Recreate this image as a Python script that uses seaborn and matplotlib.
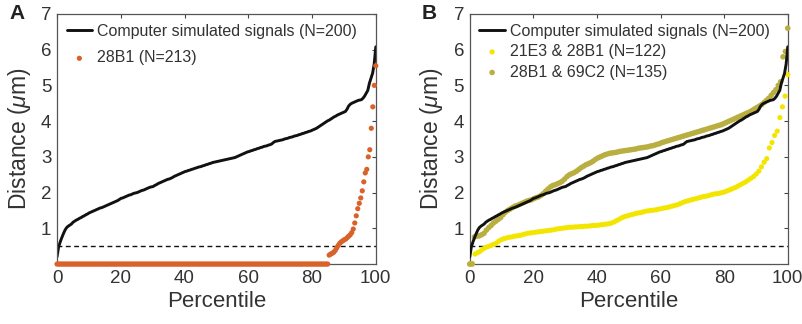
import numpy as np
import pandas as pd
import matplotlib
matplotlib.use('Agg')
import matplotlib.pyplot as plt
import seaborn as sns

# Sorted distances (um)
sim_dist = [
    0.20, 0.48, 0.62, 0.74, 0.85, 0.95, 1.02, 1.06, 1.09, 1.12,
    1.17, 1.20, 1.23, 1.25, 1.28, 1.30, 1.33, 1.35, 1.38, 1.40,
    1.43, 1.45, 1.47, 1.49, 1.51, 1.53, 1.55, 1.57, 1.58, 1.60,
    1.62, 1.64, 1.66, 1.68, 1.70, 1.72, 1.74, 1.76, 1.78, 1.81,
    1.84, 1.85, 1.87, 1.89, 1.91, 1.93, 1.94, 1.96, 1.98, 1.99,
    2.00, 2.02, 2.04, 2.06, 2.07, 2.09, 2.11, 2.13, 2.15, 2.16,
    2.17, 2.20, 2.22, 2.25, 2.27, 2.29, 2.31, 2.33, 2.35, 2.37,
    2.38, 2.40, 2.42, 2.45, 2.47, 2.49, 2.51, 2.53, 2.55, 2.57,
    2.59, 2.60, 2.62, 2.63, 2.65, 2.66, 2.68, 2.69, 2.71, 2.72,
    2.73, 2.75, 2.76, 2.78, 2.79, 2.81, 2.82, 2.84, 2.85, 2.86,
    2.87, 2.88, 2.89, 2.90, 2.91, 2.92, 2.93, 2.94, 2.95, 2.96,
    2.97, 2.98, 3.00, 3.02, 3.04, 3.06, 3.08, 3.10, 3.12, 3.14,
    3.15, 3.17, 3.18, 3.20, 3.21, 3.23, 3.24, 3.26, 3.27, 3.29,
    3.30, 3.31, 3.33, 3.34, 3.36, 3.40, 3.43, 3.44, 3.45, 3.46,
    3.47, 3.48, 3.50, 3.51, 3.52, 3.54, 3.55, 3.56, 3.58, 3.59,
    3.60, 3.62, 3.63, 3.65, 3.66, 3.68, 3.69, 3.71, 3.72, 3.74,
    3.76, 3.78, 3.80, 3.83, 3.86, 3.89, 3.92, 3.95, 3.98, 4.01,
    4.03, 4.06, 4.09, 4.12, 4.14, 4.17, 4.19, 4.21, 4.23, 4.25,
    4.27, 4.33, 4.42, 4.47, 4.50, 4.52, 4.54, 4.56, 4.58, 4.59,
    4.60, 4.64, 4.70, 4.78, 4.86, 5.06, 5.20, 5.34, 5.60, 6.08,
]

b28_zero_count = 181
b28_nonzero = [
    0.25, 0.28, 0.30, 0.33, 0.38, 0.45, 0.52, 0.58, 0.62, 0.65,
    0.68, 0.70, 0.74, 0.78, 0.82, 0.88, 0.98, 1.15, 1.35, 1.55,
    1.70, 1.85, 2.05, 2.30, 2.55, 2.65, 3.00, 3.20, 3.80, 4.40,
    5.00, 5.55,
]
b28_dist = [0.0] * b28_zero_count + b28_nonzero

e21_b28_dist = [
    0.00, 0.02, 0.28, 0.32, 0.36, 0.42, 0.46, 0.49, 0.52, 0.55,
    0.58, 0.64, 0.68, 0.71, 0.73, 0.75, 0.76, 0.78, 0.79, 0.80,
    0.82, 0.84, 0.86, 0.87, 0.88, 0.89, 0.90, 0.91, 0.92, 0.93,
    0.94, 0.95, 0.96, 0.98, 0.99, 1.00, 1.01, 1.02, 1.03, 1.03,
    1.04, 1.04, 1.05, 1.05, 1.06, 1.06, 1.07, 1.08, 1.08, 1.09,
    1.10, 1.11, 1.12, 1.13, 1.15, 1.18, 1.22, 1.26, 1.30, 1.33,
    1.35, 1.37, 1.39, 1.41, 1.43, 1.44, 1.46, 1.48, 1.49, 1.50,
    1.51, 1.52, 1.54, 1.55, 1.57, 1.58, 1.60, 1.62, 1.64, 1.66,
    1.69, 1.72, 1.75, 1.77, 1.79, 1.81, 1.83, 1.85, 1.87, 1.89,
    1.90, 1.92, 1.94, 1.96, 1.97, 1.98, 2.00, 2.02, 2.05, 2.08,
    2.11, 2.14, 2.18, 2.22, 2.26, 2.30, 2.35, 2.40, 2.45, 2.52,
    2.60, 2.72, 2.85, 2.95, 3.25, 3.40, 3.60, 3.72, 4.10, 4.40,
    4.70, 5.30,
]

b28_c69_dist = [
    0.00, 0.00, 0.76, 0.78, 0.79, 0.82, 0.86, 0.95, 1.02, 1.08,
    1.15, 1.20, 1.25, 1.30, 1.38, 1.45, 1.50, 1.54, 1.58, 1.62,
    1.64, 1.67, 1.70, 1.73, 1.76, 1.78, 1.80, 1.83, 1.86, 1.88,
    1.92, 1.97, 2.04, 2.10, 2.16, 2.20, 2.22, 2.25, 2.28, 2.32,
    2.38, 2.45, 2.50, 2.53, 2.56, 2.60, 2.65, 2.70, 2.74, 2.78,
    2.81, 2.84, 2.88, 2.93, 2.97, 3.00, 3.03, 3.06, 3.08, 3.10,
    3.11, 3.12, 3.13, 3.15, 3.16, 3.17, 3.18, 3.19, 3.20, 3.21,
    3.22, 3.24, 3.25, 3.26, 3.27, 3.28, 3.30, 3.31, 3.33, 3.35,
    3.37, 3.40, 3.42, 3.44, 3.46, 3.48, 3.50, 3.52, 3.54, 3.56,
    3.58, 3.60, 3.62, 3.64, 3.66, 3.68, 3.70, 3.72, 3.74, 3.76,
    3.78, 3.80, 3.82, 3.84, 3.86, 3.88, 3.90, 3.93, 3.96, 3.99,
    4.02, 4.05, 4.08, 4.11, 4.14, 4.17, 4.20, 4.23, 4.26, 4.30,
    4.34, 4.38, 4.42, 4.46, 4.52, 4.58, 4.64, 4.72, 4.80, 4.88,
    5.00, 5.10, 5.80, 5.95, 6.60,
]

threshold = 0.5


def to_frame(dist):
    d = np.sort(np.asarray(dist, dtype=float))
    pct = np.arange(len(d)) / (len(d) - 1) * 100
    return pd.DataFrame({'Percentile': pct, 'Distance': d})


sns.set_style('white')
plt.rcParams['font.family'] = ['Liberation Sans', 'DejaVu Sans']
plt.rcParams['mathtext.fontset'] = 'custom'
plt.rcParams['mathtext.it'] = 'Liberation Sans:italic'
plt.rcParams['mathtext.rm'] = 'Liberation Sans'

fig = plt.figure(figsize=(8.03, 3.24), dpi=100)
ax_a = fig.add_axes([0.071, 0.185, 0.397, 0.772])
ax_b = fig.add_axes([0.585, 0.185, 0.396, 0.772])

sim = to_frame(sim_dist)
orange = '#D9622B'
yellow = '#F4E500'
olive = '#B9AE40'

# Panel A
sns.lineplot(data=sim, x='Percentile', y='Distance', ax=ax_a, color='#111111',
             linewidth=2.1, label='Computer simulated signals (N=200)')
sns.scatterplot(data=to_frame(b28_dist), x='Percentile', y='Distance', ax=ax_a,
                color=orange, s=14, edgecolor='none', clip_on=False, zorder=5,
                label='28B1 (N=213)')

# Panel B
sns.lineplot(data=sim, x='Percentile', y='Distance', ax=ax_b, color='#111111',
             linewidth=2.1, label='Computer simulated signals (N=200)', zorder=4)
sns.scatterplot(data=to_frame(e21_b28_dist), x='Percentile', y='Distance', ax=ax_b,
                color=yellow, s=14, edgecolor='none', clip_on=False, zorder=3,
                label='21E3 & 28B1 (N=122)')
sns.scatterplot(data=to_frame(b28_c69_dist), x='Percentile', y='Distance', ax=ax_b,
                color=olive, s=16, edgecolor='none', clip_on=False, zorder=3,
                label='28B1 & 69C2 (N=135)')

for ax, letter, spacing in [(ax_a, 'A', 0.75), (ax_b, 'B', 0.35)]:
    ax.plot([0, 100], [threshold, threshold], ls=(0, (3.5, 2.5)), color='#111111',
            lw=1.0, zorder=2)
    ax.set_xlim(0, 100)
    ax.set_ylim(0, 7)
    ax.set_xticks([0, 20, 40, 60, 80, 100])
    ax.set_yticks([1, 2, 3, 4, 5, 6, 7])
    ax.tick_params(direction='in', length=3, width=0.8, colors='#444444',
                   labelcolor='#333333', labelsize=13.5, top=True, right=True,
                   pad=4)
    for sp in ax.spines.values():
        sp.set_color('#555555')
        sp.set_linewidth(0.9)
    ax.set_xlabel('Percentile', fontsize=16, color='#333333', labelpad=3)
    ax.set_ylabel(r'Distance ($\mu$m)', fontsize=16.5, color='#333333', labelpad=6)
    ax.text(-0.15, 1.0, letter, transform=ax.transAxes, fontsize=15,
            fontweight='bold', va='center', ha='left', color='#222222')
    leg = ax.legend(loc='upper left', frameon=False, fontsize=11.5,
                    handlelength=1.6, handletextpad=0.3, labelspacing=spacing,
                    borderaxespad=0.2, markerscale=1.0)
    for t in leg.get_texts():
        t.set_color('#333333')

fig.savefig('out.png', dpi=100)
